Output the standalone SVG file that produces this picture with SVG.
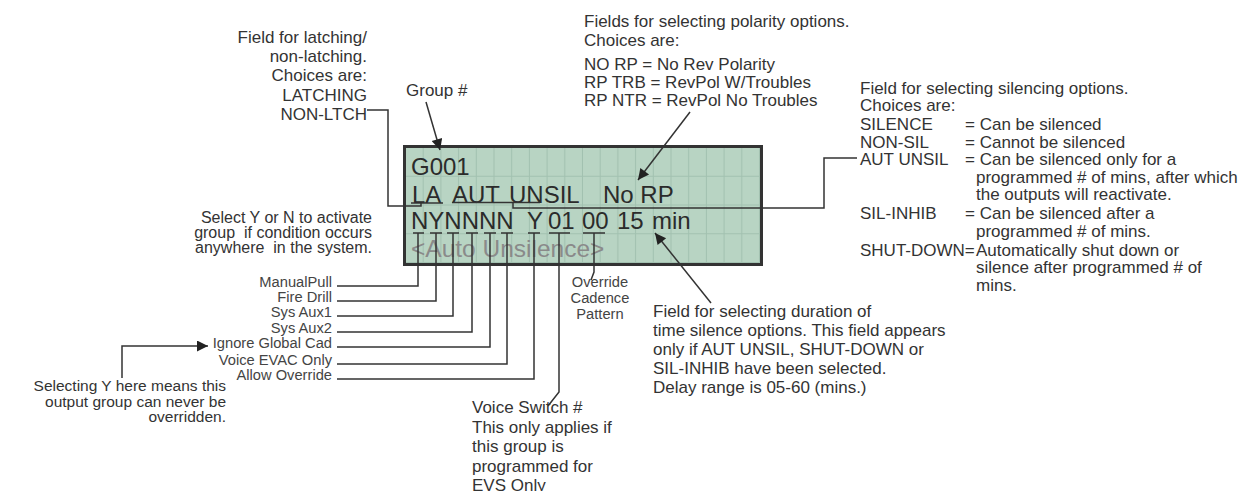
<svg xmlns="http://www.w3.org/2000/svg" width="1242" height="491" viewBox="0 0 1242 491">
<style>
.t17{font-family:"Liberation Sans",Arial,sans-serif;font-size:17px;fill:#333}
.t16{font-family:"Liberation Sans",Arial,sans-serif;font-size:16px;fill:#333}
.t15{font-family:"Liberation Sans",Arial,sans-serif;font-size:15.5px;fill:#333}
.lbl{font-family:"Liberation Sans",Arial,sans-serif;font-size:14.7px;fill:#444}
.lcd{font-family:"Liberation Sans",Arial,sans-serif;font-size:24px;fill:#2b2b2b}
.lcdg{font-family:"Liberation Sans",Arial,sans-serif;font-size:24.5px;fill:#8a8a8a}
.ln{stroke:#333;stroke-width:1.5;fill:none}
.end{text-anchor:end}
.mid{text-anchor:middle}
.pre{white-space:pre}
</style>
<defs>
<marker id="ah" viewBox="0 0 10 10" refX="10" refY="5" markerUnits="userSpaceOnUse" markerWidth="14" markerHeight="11" orient="auto">
<path d="M0,0 L10,5 L0,10 z" fill="#222"/>
</marker>
<pattern id="cells" patternUnits="userSpaceOnUse" x="406" y="148" width="17.7" height="28.75">
<rect width="17.7" height="28.75" fill="#b8d4c3"/>
<path d="M17.2,0 V28.75 M0,28.25 H17.7" stroke="#a2c1b0" stroke-width="1"/>
</pattern>
</defs>

<g id="lcd">
<rect x="404.5" y="146.5" width="357" height="118" fill="url(#cells)" stroke="#333" stroke-width="3"/>
<text class="lcd" x="411" y="175">G001</text>
<text class="lcd" x="412" y="203">LA</text>
<text class="lcd" x="452" y="203">AUT</text>
<text class="lcd" x="509" y="203">UNSIL</text>
<text class="lcd" x="603" y="203">No RP</text>
<text class="lcd" x="411" y="229">NYNNNN</text>
<text class="lcd" x="527" y="229">Y</text>
<text class="lcd" x="548" y="229">01</text>
<text class="lcd" x="582" y="229">00</text>
<text class="lcd" x="617" y="229">15</text>
<text class="lcd" x="652" y="229">min</text>
<text class="lcdg" x="411" y="257">&lt;Auto Unsilence&gt;</text>
</g>

<g id="latching">
<text class="t17 end" x="367" y="42.5">Field for latching/</text>
<text class="t17 end" x="367" y="62">non-latching.</text>
<text class="t17 end" x="367" y="81">Choices are:</text>
<text class="t17 end" x="367" y="100.5">LATCHING</text>
<text class="t17 end" x="367" y="120">NON-LTCH</text>
</g>

<g id="group-num">
<text class="t17" x="406" y="96">Group #</text>
</g>

<g id="polarity">
<text class="t17" x="584" y="27">Fields for selecting polarity options.</text>
<text class="t17" x="584" y="46">Choices are:</text>
<text class="t17" x="584" y="70">NO RP = No Rev Polarity</text>
<text class="t17" x="584" y="88">RP TRB = RevPol W/Troubles</text>
<text class="t17" x="584" y="106">RP NTR = RevPol No Troubles</text>
</g>

<g id="silencing">
<text class="t17" x="860" y="94">Field for selecting silencing options.</text>
<text class="t17" x="860" y="111">Choices are:</text>
<text class="t17" x="860" y="130">SILENCE</text><text class="t17" x="965" y="130">= Can be silenced</text>
<text class="t17" x="860" y="147.5">NON-SIL</text><text class="t17" x="965" y="147.5">= Cannot be silenced</text>
<text class="t17" x="860" y="165">AUT UNSIL</text><text class="t17" x="965" y="165">= Can be silenced only for a</text>
<text class="t17" x="976" y="182.5">programmed # of mins, after which</text>
<text class="t17" x="976" y="200">the outputs will reactivate.</text>
<text class="t17" x="860" y="219">SIL-INHIB</text><text class="t17" x="965" y="219">= Can be silenced after a</text>
<text class="t17" x="976" y="236.5">programmed # of mins.</text>
<text class="t17" x="860" y="255.5">SHUT-DOWN=</text><text class="t17" x="976" y="255.5">Automatically shut down or</text>
<text class="t17" x="976" y="273">silence after programmed # of</text>
<text class="t17" x="976" y="290.5">mins.</text>
</g>

<g id="select-yn">
<text class="t16 end" x="372" y="222.5">Select Y or N to activate</text>
<text class="t16 end pre" x="372" y="237.5">group  if condition occurs</text>
<text class="t16 end pre" x="372" y="252.5">anywhere  in the system.</text>
</g>

<g id="flags">
<text class="lbl end" x="332" y="287">ManualPull</text>
<text class="lbl end" x="332" y="302">Fire Drill</text>
<text class="lbl end" x="332" y="317">Sys Aux1</text>
<text class="lbl end" x="332" y="333">Sys Aux2</text>
<text class="lbl end" x="332" y="348">Ignore Global Cad</text>
<text class="lbl end" x="332" y="365">Voice EVAC Only</text>
<text class="lbl end" x="332" y="380">Allow Override</text>
</g>

<g id="override-note">
<text class="t15 end" x="226" y="391">Selecting Y here means this</text>
<text class="t15 end" x="226" y="406.5">output group can never be</text>
<text class="t15 end" x="226" y="422">overridden.</text>
</g>

<g id="cadence">
<text class="lbl mid" x="600" y="287">Override</text>
<text class="lbl mid" x="600" y="303">Cadence</text>
<text class="lbl mid" x="600" y="319">Pattern</text>
</g>

<g id="voice-switch">
<text class="t17" x="472" y="413">Voice Switch #</text>
<text class="t17" x="472" y="432.5">This only applies if</text>
<text class="t17" x="472" y="452">this group is</text>
<text class="t17" x="472" y="471.5">programmed for</text>
<text class="t17" x="472" y="491">EVS Only</text>
</g>

<g id="duration">
<text class="t17" x="653" y="317">Field for selecting duration of</text>
<text class="t17" x="653" y="336">time silence options. This field appears</text>
<text class="t17" x="653" y="355">only if AUT UNSIL, SHUT-DOWN or</text>
<text class="t17" x="653" y="374">SIL-INHIB have been selected.</text>
<text class="t17" x="653" y="393">Delay range is 05-60 (mins.)</text>
</g>

<g id="connectors">
<path class="ln" d="M426,102 L440,150" marker-end="url(#ah)"/>
<path class="ln" d="M690,112 L638,180" marker-end="url(#ah)"/>
<path class="ln" d="M711,303 L655,233" marker-end="url(#ah)"/>
<path class="ln" d="M122,378 V346 H208" marker-end="url(#ah)"/>
<path class="ln" d="M367,110 H388 V206 H421 V203"/>
<path class="ln" d="M411,203 H443"/>
<path class="ln" d="M452,202.5 H540"/>
<path class="ln" d="M857,158 H824 V208 H513 V202.5"/>
<path class="ln" d="M413,233 H424 M430,233 H442 M447,233 H459 M466,233 H478 M484,233 H496 M501,233 H513 M528,233 H540 M549,233 H570 M583,233 H605"/>
<path class="ln" d="M337,286 H418 V233"/>
<path class="ln" d="M337,301 H436 V233"/>
<path class="ln" d="M337,316 H453 V233"/>
<path class="ln" d="M337,332 H472 V233"/>
<path class="ln" d="M337,347 H490 V233"/>
<path class="ln" d="M337,364 H507 V233"/>
<path class="ln" d="M337,379 H534 V233"/>
<path class="ln" d="M559,233 V392 L548,406"/>
<path class="ln" d="M594,233 V272 L591,280"/>
</g>
</svg>
